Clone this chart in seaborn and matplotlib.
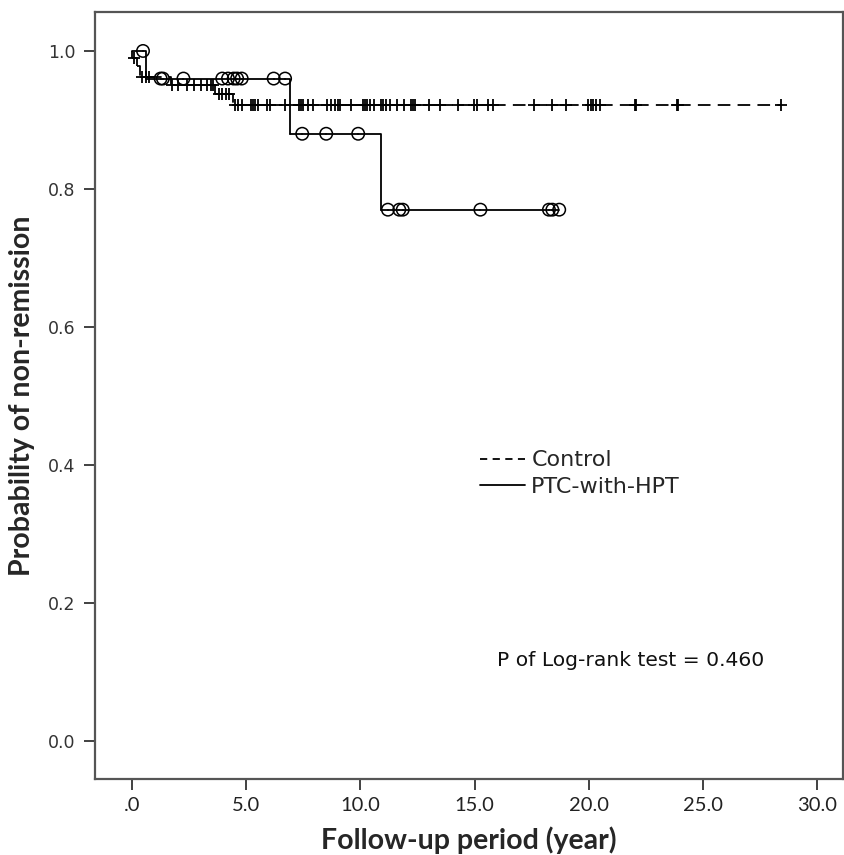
"""
Kaplan-Meier curves: probability of non-remission, Control vs PTC-with-HPT
"""
import numpy as np
import pandas as pd
import matplotlib
matplotlib.use("Agg")
import matplotlib.pyplot as plt
import seaborn as sns
from matplotlib.lines import Line2D

# step curves (event time -> level after it)
ctrl_event_t = [0.02, 0.2, 0.35, 1.7, 3.65, 4.4]
ctrl_level = [1.0, 0.99, 0.978, 0.962, 0.951, 0.938, 0.922]
ctrl_censor_t = [0.08, 0.45, 0.6, 0.75,
                 1.75, 2.0, 2.4, 2.7, 3.0, 3.3, 3.45, 3.55,
                 3.8, 3.95, 4.1, 4.25,
                 4.5, 4.65, 4.8, 5.2, 5.3, 5.4, 5.5, 5.9, 6.05, 6.7, 7.3, 7.4,
                 7.5, 7.7, 7.9, 8.55, 8.7, 8.9, 9.0, 9.1, 9.6, 10.1, 10.2, 10.3,
                 10.4, 10.6, 10.9, 11.0, 11.1, 11.3, 11.6, 11.9, 12.2, 12.3, 12.4,
                 13.0, 13.5, 14.25, 14.95, 15.1, 15.6, 15.8, 17.6, 18.4, 19.0,
                 19.95, 20.1, 20.2, 20.3, 20.5, 22.0, 22.05, 23.85, 23.9, 28.4]

ptc_event_t = [0.6, 6.9, 10.9]
ptc_level = [1.0, 0.96, 0.88, 0.77]
ptc_censor_t = [0.48, 1.25, 1.35, 2.25, 3.95, 4.2, 4.45, 4.6, 4.8, 6.2, 6.7,
                7.45, 8.5, 9.9, 11.2, 11.7, 11.85, 15.25, 18.25, 18.4, 18.7]

p_text = "P of Log-rank test = 0.460"


def level_at(t, event_t, level):
    idx = np.searchsorted(np.array(event_t), np.array(t), side="right")
    return np.array(level)[idx]


def segments(event_t, level, censor_t):
    # one piece per interval so that the dash pattern restarts like SPSS does
    times = np.unique(np.concatenate([[0.0], event_t, censor_t]))
    rows = []
    for i in range(len(times) - 1):
        a, b = times[i], times[i + 1]
        rows.append({"seg": i, "t": a, "s": level_at(a, event_t, level)})
        rows.append({"seg": i, "t": b, "s": level_at(b, event_t, level)})
    return pd.DataFrame(rows)


sns.set_style("ticks")
plt.rcParams["font.family"] = ["DejaVu Sans"]
narrow = ["Lato", "DejaVu Sans"]

fig = plt.figure(figsize=(8.44, 8.55), dpi=100)
ax = fig.add_axes([0.1126, 0.0889, 0.8864, 0.8971])

ctrl_df = segments(ctrl_event_t, ctrl_level, ctrl_censor_t)
ptc_df = segments(ptc_event_t, ptc_level, ptc_censor_t)

sns.lineplot(data=ctrl_df, x="t", y="s", units="seg", estimator=None, sort=False,
             drawstyle="steps-post", color="black", linewidth=1.3,
             linestyle=(0, (7, 4)), ax=ax, legend=False)
sns.lineplot(data=ptc_df, x="t", y="s", units="seg", estimator=None, sort=False,
             drawstyle="steps-post", color="black", linewidth=1.3,
             ax=ax, legend=False)

ctrl_cens = pd.DataFrame({"t": ctrl_censor_t,
                          "s": level_at(ctrl_censor_t, ctrl_event_t, ctrl_level)})
ptc_cens = pd.DataFrame({"t": ptc_censor_t,
                         "s": level_at(ptc_censor_t, ptc_event_t, ptc_level)})
sns.scatterplot(data=ctrl_cens, x="t", y="s", marker="+", s=80, color="black",
                linewidth=1.3, ax=ax, legend=False, zorder=3)
sns.scatterplot(data=ptc_cens, x="t", y="s", marker="o", s=80, facecolor="none",
                edgecolor="black", linewidth=1.1, ax=ax, legend=False, zorder=3)

ax.set_xlim(-1.62, 31.13)
ax.set_ylim(-0.055, 1.0565)
ax.set_xticks([0, 5, 10, 15, 20, 25, 30])
ax.set_xticklabels([".0", "5.0", "10.0", "15.0", "20.0", "25.0", "30.0"],
                   family=narrow, fontsize=14.5, color="#222222")
ax.set_yticks([0.0, 0.2, 0.4, 0.6, 0.8, 1.0])
ax.set_yticklabels(["0.0", "0.2", "0.4", "0.6", "0.8", "1.0"], fontsize=12.5,
                   color="#333333")
ax.tick_params(axis="both", direction="out", length=8, width=1.3, color="#333333")
ax.tick_params(axis="y", pad=6)
ax.tick_params(axis="x", pad=5)

for sp in ax.spines.values():
    sp.set_color("#555555")
    sp.set_linewidth(1.6)

ax.set_xlabel("Follow-up period (year)", family=narrow,
              fontweight="bold", fontsize=20.5, labelpad=9)
ax.set_ylabel("Probability of non-remission", family=narrow,
              fontweight="bold", fontsize=20.5, labelpad=9)

handles = [Line2D([], [], color="black", linewidth=1.3, linestyle=(0, (4, 3))),
           Line2D([], [], color="black", linewidth=1.3)]
ax.legend(handles, ["Control", "PTC-with-HPT"], loc="center left",
          bbox_to_anchor=(0.5, 0.398), frameon=False, fontsize=16,
          handlelength=2.0, handletextpad=0.3, labelspacing=0.3, borderpad=0)

ax.text(0.537, 0.155, p_text, transform=ax.transAxes, fontsize=14.6,
        color="#111111", va="center")

fig.savefig("out.png", dpi=100)
